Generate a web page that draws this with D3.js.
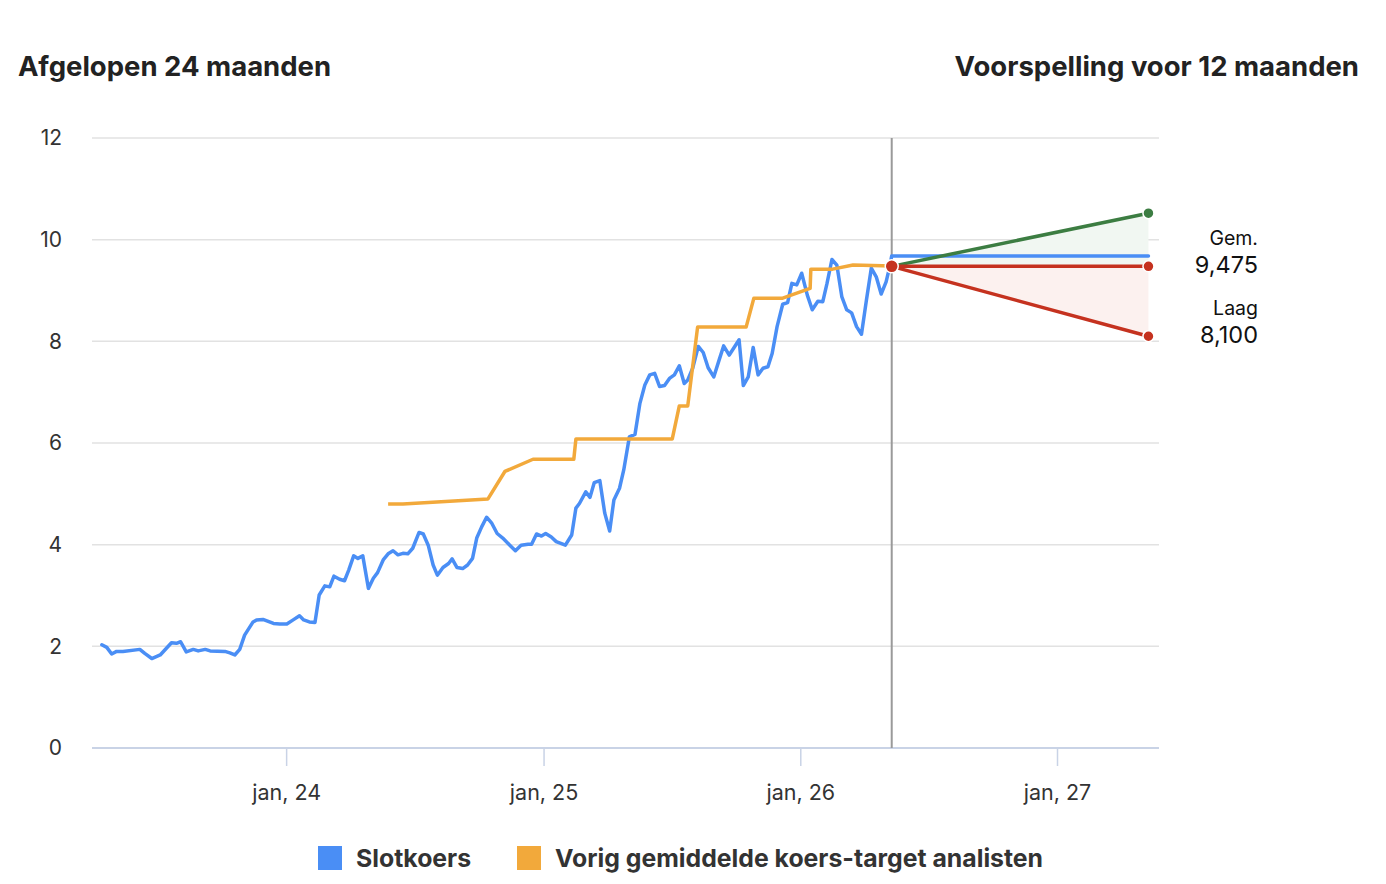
<!DOCTYPE html>
<html>
<head>
<meta charset="utf-8">
<script src="https://cdn.jsdelivr.net/npm/d3@7"></script>
<style>
  body { margin: 0; background: #fff; font-family: Inter, "Liberation Sans", Arial, sans-serif; }
  svg text { font-family: Inter, "Liberation Sans", Arial, sans-serif; }
</style>
</head>
<body>
<div id="chart"></div>
<script>
// slotkoers (closing price)
const closeDates = ["2023-04-14","2023-04-21","2023-04-28","2023-05-05","2023-05-14","2023-06-07","2023-06-14","2023-06-24","2023-07-06","2023-07-22","2023-07-29","2023-08-04","2023-08-12","2023-08-22","2023-08-29","2023-09-08","2023-09-15","2023-10-06","2023-10-13","2023-10-20","2023-10-27","2023-11-03","2023-11-15","2023-11-20","2023-11-29","2023-12-14","2023-12-23","2024-01-02","2024-01-11","2024-01-20","2024-01-26","2024-02-03","2024-02-11","2024-02-17","2024-02-25","2024-03-03","2024-03-09","2024-03-17","2024-03-24","2024-03-30","2024-04-06","2024-04-12","2024-04-19","2024-04-27","2024-05-04","2024-05-10","2024-05-18","2024-05-25","2024-06-01","2024-06-08","2024-06-15","2024-06-22","2024-06-29","2024-07-08","2024-07-14","2024-07-21","2024-07-28","2024-08-03","2024-08-11","2024-08-19","2024-08-24","2024-08-31","2024-09-08","2024-09-15","2024-09-22","2024-09-28","2024-10-05","2024-10-12","2024-10-19","2024-10-27","2024-11-04","2024-11-14","2024-11-22","2024-11-30","2024-12-10","2024-12-15","2024-12-22","2024-12-29","2025-01-04","2025-01-12","2025-01-19","2025-02-01","2025-02-10","2025-02-16","2025-02-21","2025-03-02","2025-03-08","2025-03-14","2025-03-22","2025-03-29","2025-04-05","2025-04-11","2025-04-19","2025-04-25","2025-05-03","2025-05-11","2025-05-18","2025-05-25","2025-06-01","2025-06-08","2025-06-15","2025-06-22","2025-06-29","2025-07-06","2025-07-13","2025-07-20","2025-07-25","2025-08-01","2025-08-09","2025-08-16","2025-08-23","2025-08-31","2025-09-08","2025-09-14","2025-09-22","2025-09-28","2025-10-06","2025-10-12","2025-10-19","2025-10-26","2025-11-02","2025-11-09","2025-11-16","2025-11-22","2025-11-29","2025-12-07","2025-12-14","2025-12-20","2025-12-27","2026-01-03","2026-01-11","2026-01-18","2026-01-26","2026-02-02","2026-02-08","2026-02-15","2026-02-22","2026-03-01","2026-03-08","2026-03-15","2026-03-22","2026-03-29","2026-04-05","2026-04-12","2026-04-19","2026-04-26","2026-05-03","2026-05-08","2026-05-11","2027-05-11"];
const closeValues = [2.03,1.98,1.85,1.90,1.90,1.94,1.86,1.76,1.83,2.07,2.06,2.09,1.89,1.94,1.91,1.94,1.91,1.90,1.87,1.83,1.94,2.22,2.48,2.52,2.53,2.45,2.44,2.44,2.52,2.60,2.52,2.48,2.47,3.01,3.19,3.17,3.38,3.32,3.29,3.50,3.78,3.73,3.78,3.14,3.34,3.45,3.70,3.82,3.88,3.80,3.83,3.82,3.93,4.24,4.21,3.99,3.60,3.40,3.55,3.63,3.72,3.55,3.53,3.60,3.73,4.13,4.35,4.54,4.43,4.22,4.13,3.99,3.88,3.99,4.01,4.01,4.21,4.17,4.22,4.15,4.06,3.99,4.19,4.72,4.81,5.04,4.93,5.22,5.26,4.62,4.27,4.88,5.11,5.47,6.12,6.17,6.78,7.14,7.34,7.37,7.11,7.13,7.27,7.34,7.52,7.17,7.24,7.47,7.90,7.78,7.48,7.30,7.65,7.91,7.73,7.86,8.03,7.13,7.30,7.88,7.34,7.47,7.50,7.76,8.29,8.73,8.76,9.14,9.11,9.34,8.91,8.62,8.79,8.78,9.14,9.61,9.50,8.88,8.62,8.56,8.29,8.14,8.81,9.44,9.27,8.93,9.17,9.46,9.68,9.68];

// vorig gemiddelde koers-target analisten
const targetDates = ["2024-05-25","2024-06-15","2024-10-14","2024-11-07","2024-12-17","2025-02-13","2025-02-16","2025-07-03","2025-07-13","2025-07-25","2025-08-08","2025-10-16","2025-10-27","2025-12-07","2026-01-15","2026-01-16","2026-02-16","2026-03-17","2026-05-11"];
const targetValues = [4.80,4.80,4.90,5.44,5.68,5.68,6.08,6.08,6.73,6.73,8.28,8.28,8.85,8.85,9.04,9.42,9.42,9.50,9.48];

// voorspelling
const forecastDates = ["2026-05-11","2027-05-11"];
const forecastStart = 9.475;
const forecastHigh = 10.52;
const forecastAvg = 9.475;
const forecastLow = 8.10;

const yTicks = [0, 2, 4, 6, 8, 10, 12];
const legendItems = ["Slotkoers", "Vorig gemiddelde koers-target analisten"];

const width = 1386;
const height = 884;
const margin = { top: 138, right: 227, bottom: 136, left: 92 };

const parse = d3.timeParse("%Y-%m-%d");
const closeData = closeDates.map((d, i) => ({ date: parse(d), value: closeValues[i] }));
const targetData = targetDates.map((d, i) => ({ date: parse(d), value: targetValues[i] }));
const fStart = parse(forecastDates[0]);
const fEnd = parse(forecastDates[1]);

const svg = d3.select("#chart")
  .append("svg")
  .attr("width", width)
  .attr("height", height);

const x = d3.scaleTime()
  .domain([parse("2023-03-31"), parse("2027-05-26")])
  .range([margin.left, width - margin.right]);

const y = d3.scaleLinear()
  .domain([0, 12])
  .range([height - margin.bottom, margin.top]);

// titles
svg.append("text")
  .attr("x", 18)
  .attr("y", 76)
  .attr("font-size", 27.5)
  .attr("font-weight", 700)
  .attr("fill", "#222")
  .text("Afgelopen 24 maanden");

svg.append("text")
  .attr("x", 1359)
  .attr("y", 76)
  .attr("text-anchor", "end")
  .attr("font-size", 27.5)
  .attr("font-weight", 700)
  .attr("fill", "#222")
  .text("Voorspelling voor 12 maanden");

// grid
svg.append("g")
  .selectAll("line")
  .data(yTicks.filter(d => d > 0))
  .join("line")
  .attr("x1", margin.left)
  .attr("x2", width - margin.right)
  .attr("y1", d => y(d))
  .attr("y2", d => y(d))
  .attr("stroke", "#e2e2e2")
  .attr("stroke-width", 1.5);

const yAxis = d3.axisLeft(y)
  .tickValues(yTicks)
  .tickSize(0)
  .tickPadding(30);

svg.append("g")
  .attr("transform", `translate(${margin.left},0)`)
  .call(yAxis)
  .call(g => g.select(".domain").remove())
  .call(g => g.selectAll("text")
    .attr("font-size", 21)
    .attr("fill", "#333"));

const xAxis = d3.axisBottom(x)
  .ticks(d3.timeYear.every(1))
  .tickFormat(d => "jan, " + d3.timeFormat("%y")(d))
  .tickSize(18)
  .tickPadding(19);

svg.append("g")
  .attr("transform", `translate(0,${y(0)})`)
  .call(xAxis)
  .call(g => g.select(".domain").remove())
  .call(g => g.selectAll(".tick line").attr("stroke", "#c9d3e6").attr("stroke-width", 1.5))
  .call(g => g.selectAll("text")
    .attr("font-size", 21.5)
    .attr("fill", "#333"));

svg.append("line")
  .attr("x1", margin.left)
  .attr("x2", width - margin.right)
  .attr("y1", y(0))
  .attr("y2", y(0))
  .attr("stroke", "#c9d3e6")
  .attr("stroke-width", 2);

// forecast areas
svg.append("path")
  .attr("d", `M${x(fStart)},${y(forecastStart)}L${x(fEnd)},${y(forecastHigh)}L${x(fEnd)},${y(forecastAvg)}Z`)
  .attr("fill", "#f1f7f2");

svg.append("path")
  .attr("d", `M${x(fStart)},${y(forecastStart)}L${x(fEnd)},${y(forecastAvg)}L${x(fEnd)},${y(forecastLow)}Z`)
  .attr("fill", "#fcf1ef");

// divider
svg.append("line")
  .attr("x1", x(fStart))
  .attr("x2", x(fStart))
  .attr("y1", y(12))
  .attr("y2", y(0))
  .attr("stroke", "#9a9a9a")
  .attr("stroke-width", 2);

const line = d3.line()
  .x(d => x(d.date))
  .y(d => y(d.value));

svg.append("path")
  .datum(closeData)
  .attr("fill", "none")
  .attr("stroke", "#4a8ef5")
  .attr("stroke-width", 3.5)
  .attr("stroke-linejoin", "round")
  .attr("stroke-linecap", "round")
  .attr("d", line);

svg.append("path")
  .datum(targetData)
  .attr("fill", "none")
  .attr("stroke", "#f2a93b")
  .attr("stroke-width", 3.5)
  .attr("stroke-linejoin", "round")
  .attr("d", line);

const forecastLines = [
  { end: forecastHigh, color: "#3c7d42" },
  { end: forecastAvg, color: "#c5321f" },
  { end: forecastLow, color: "#c5321f" }
];

svg.append("g")
  .selectAll("line")
  .data(forecastLines)
  .join("line")
  .attr("x1", x(fStart))
  .attr("y1", y(forecastStart))
  .attr("x2", x(fEnd))
  .attr("y2", d => y(d.end))
  .attr("stroke", d => d.color)
  .attr("stroke-width", 3.5);

svg.append("g")
  .selectAll("circle")
  .data(forecastLines)
  .join("circle")
  .attr("cx", x(fEnd))
  .attr("cy", d => y(d.end))
  .attr("r", 5.5)
  .attr("fill", d => d.color)
  .attr("stroke", "#fff")
  .attr("stroke-width", 1.5);

svg.append("circle")
  .attr("cx", x(fStart))
  .attr("cy", y(forecastStart))
  .attr("r", 6.5)
  .attr("fill", "#c5321f")
  .attr("stroke", "#fff")
  .attr("stroke-width", 1.5);

// right labels
const rightLabels = [
  { name: "Gem.", value: forecastAvg },
  { name: "Laag", value: forecastLow }
];
const labelG = svg.append("g");
rightLabels.forEach(d => {
  labelG.append("text")
    .attr("x", 1258)
    .attr("y", y(d.value) - 21)
    .attr("text-anchor", "end")
    .attr("font-size", 19.5)
    .attr("fill", "#111")
    .text(d.name);
  labelG.append("text")
    .attr("x", 1258)
    .attr("y", y(d.value) + 7)
    .attr("text-anchor", "end")
    .attr("font-size", 23.5)
    .attr("fill", "#111")
    .text(d3.format(",.3f")(d.value).replace(".", ",").slice(0, 5));
});

// legend
const legendColors = ["#4a8ef5", "#f2a93b"];
const legendX = [318, 517];
const legend = svg.append("g");
legendItems.forEach((name, i) => {
  legend.append("rect")
    .attr("x", legendX[i])
    .attr("y", 846)
    .attr("width", 24)
    .attr("height", 24)
    .attr("fill", legendColors[i]);
  legend.append("text")
    .attr("x", legendX[i] + 38)
    .attr("y", 867)
    .attr("font-size", 24.8)
    .attr("font-weight", 700)
    .attr("fill", "#333")
    .text(name);
});
</script>
</body>
</html>
